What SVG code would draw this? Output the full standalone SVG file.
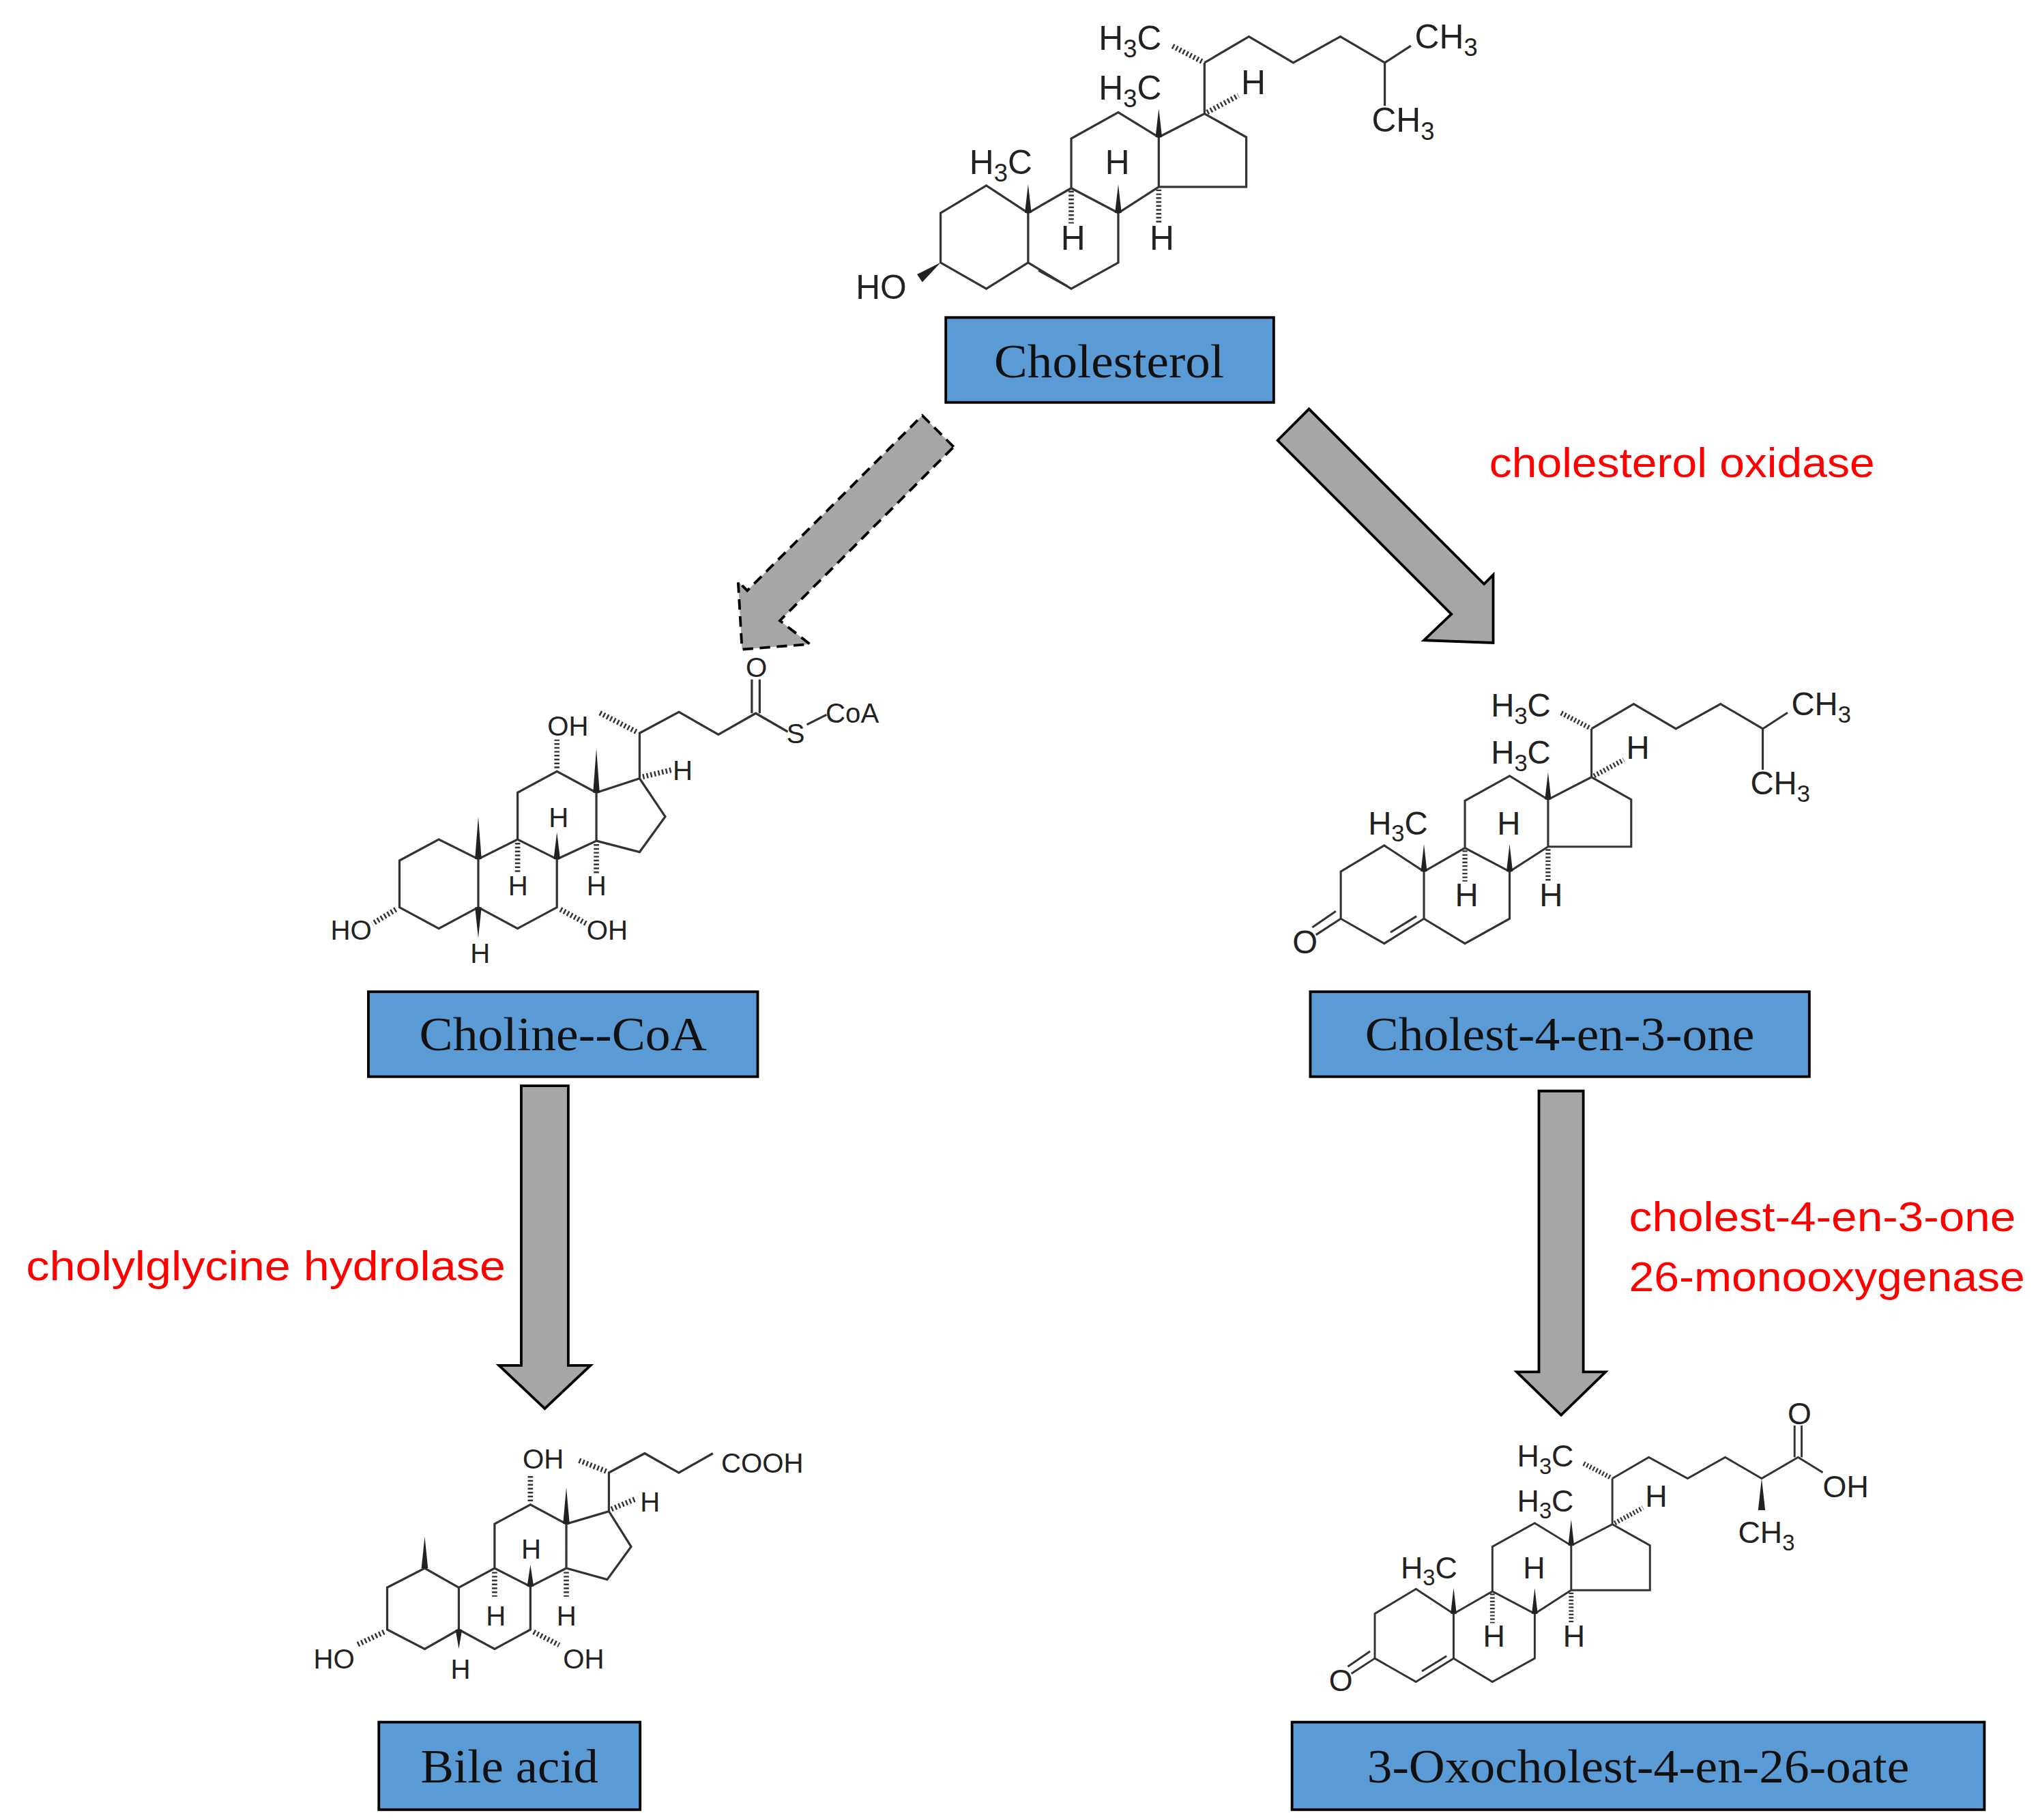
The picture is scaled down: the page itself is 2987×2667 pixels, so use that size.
<svg xmlns="http://www.w3.org/2000/svg" width="2987" height="2667" viewBox="0 0 2987 2667">
<style>
.b{fill:none;stroke:#333;stroke-width:1.7;stroke-linejoin:miter}
.h{fill:none;stroke:#333;stroke-width:4;stroke-dasharray:1.3 1.7}
.w{fill:#222;stroke:none}
.t{font-family:"Liberation Sans",Arial,sans-serif;font-size:26px;fill:#222}
.s{font-family:"Liberation Sans",Arial,sans-serif;font-size:21px;fill:#222}
.box{fill:#5B9BD5;stroke:#000;stroke-width:2}
.bt{font-family:"Liberation Serif","Times New Roman",serif;font-size:36px;fill:#111;text-anchor:middle}
.red{font-family:"Liberation Sans",Arial,sans-serif;font-size:32px;fill:#FF0000}
.arr{fill:#A6A6A6;stroke:#000;stroke-width:2}
</style>
<defs>
<g id="core">
<path class="b" d="M0,0 L-32,-21 L-67,0 L-67,38 L-32,58 L0,38 Z M0,38 L33,58 L69,38 L69,0 L33,-19 L0,0 M33,-19 L33,-57 L69,-77 L100,-58 L100,-20 L69,0 M100,-58 L135,-76 L167,-58 L167,-20 L100,-20 M135,-76 L135,-115"/>
<polygon class="w" points="-2.5,0 2.5,0 0,-22"/>
<polygon class="w" points="97.5,-58 102.5,-58 100,-80"/>
<polygon class="w" points="66.5,0 71.5,0 69,-22"/>
<line class="h" x1="33" y1="-17" x2="33" y2="8"/>
<line class="h" x1="100" y1="-18" x2="100" y2="8"/>
<line class="h" x1="137" y1="-77" x2="161" y2="-90"/>
<line class="h" x1="133" y1="-116" x2="110" y2="-128"/>
<text class="t" x="54" y="-125">H<tspan font-size="19" dy="6">3</tspan><tspan dy="-6">C</tspan></text>
<text class="t" x="54" y="-87">H<tspan font-size="19" dy="6">3</tspan><tspan dy="-6">C</tspan></text>
<text class="t" x="-45" y="-30">H<tspan font-size="19" dy="6">3</tspan><tspan dy="-6">C</tspan></text>
<text class="t" x="59" y="-30">H</text>
<text class="t" x="25" y="28">H</text>
<text class="t" x="93" y="28">H</text>
<text class="t" x="163" y="-91">H</text>
</g>
<g id="chain8">
<path class="b" d="M135,-115 L169,-135 L203,-115 L239,-135 L273,-115 L293,-128 M273,-115 L273,-82"/>
<text class="t" x="296" y="-126">CH<tspan font-size="19" dy="6">3</tspan></text>
<text class="t" x="263" y="-62">CH<tspan font-size="19" dy="6">3</tspan></text>
</g>
</defs>
<rect width="2987" height="2667" fill="#fff"/>
<g transform="scale(1.9147)">
<g id="cholesterol" transform="translate(787,163)">
<use href="#core"/><use href="#chain8"/>
<line class="b" x1="8" y1="44" x2="30" y2="56"/>
<polygon class="w" points="-67,38 -85,47 -81,53"/>
<text class="t" x="-132" y="66">HO</text>
<rect class="box" x="-63" y="80" width="251" height="65"/>
<text class="bt" x="62" y="126" textLength="176" lengthAdjust="spacingAndGlyphs">Cholesterol</text>
</g>
<g id="cholestenone">
<g transform="translate(1090,667) scale(0.95)">
<use href="#core"/><use href="#chain8"/>
<line class="b" x1="-27" y1="49" x2="-6" y2="36"/>
<line class="b" x1="-67" y1="38" x2="-87" y2="51"/>
<line class="b" x1="-71" y1="32" x2="-90" y2="45"/>
<text class="t" x="-106" y="66">O</text>
</g>
<rect class="box" x="1003" y="759" width="382" height="65"/>
<text class="bt" x="1194" y="804" textLength="298" lengthAdjust="spacingAndGlyphs">Cholest-4-en-3-one</text>
</g>
<g id="oxocholestenoate">
<g transform="translate(1112.7,1235) scale(0.9)">
<use href="#core"/>
<line class="b" x1="-27" y1="49" x2="-6" y2="36"/>
<line class="b" x1="-67" y1="38" x2="-87" y2="51"/>
<line class="b" x1="-71" y1="32" x2="-90" y2="45"/>
<text class="t" x="-106" y="66">O</text>
<path class="b" d="M135,-115 L166,-133 L199,-115 L231,-133 L262,-115 L293,-133 L314,-120"/>
<line class="b" x1="290" y1="-133" x2="290" y2="-160"/>
<line class="b" x1="296" y1="-133" x2="296" y2="-160"/>
<text class="t" x="284" y="-161">O</text>
<text class="t" x="314" y="-99">OH</text>
<polygon class="w" points="262,-115 259,-88 265,-88"/>
<text class="t" x="242" y="-60">CH<tspan font-size="19" dy="6">3</tspan></text>
</g>
<rect class="box" x="989" y="1318" width="530" height="67"/>
<text class="bt" x="1254" y="1364" textLength="415" lengthAdjust="spacingAndGlyphs">3-Oxocholest-4-en-26-oate</text>
</g>
<g id="cholinecoa">
<path class="b" d="M366.1,657.5 L335.9,642.4 L305.8,658.6 L305.8,694.4 L335.9,710.6 L366.1,694.4 Z M366.1,694.4 L396.2,710.6 L426.3,694.4 L426.3,657.5 L396.2,642.4 L366.1,657.5 M396.2,642.4 L396.2,606.6 L426.3,590.4 L456.5,606.6 L456.5,643.5 L426.3,657.5 M456.5,606.6 L489.6,595.8 L509.2,625 L489.6,652.1 L456.5,643.5 M489.6,595.8 L489.6,561.1 L519.7,544.9 L549.9,562.2 L578.5,545.9 L603,560 M617.6,554.6 L632.7,547"/>
<line class="b" x1="575.5" y1="545.9" x2="575.5" y2="520"/>
<line class="b" x1="581.5" y1="545.9" x2="581.5" y2="520"/>
<polygon class="w" points="363.6,657.5 368.6,657.5 366.1,625"/>
<polygon class="w" points="454,606.6 459,606.6 456.5,573"/>
<polygon class="w" points="423.8,657.5 428.8,657.5 426.3,637"/>
<polygon class="w" points="363.6,694.4 368.6,694.4 366.1,718"/>
<line class="h" x1="487" y1="560" x2="458" y2="545"/>
<line class="h" x1="426.3" y1="588" x2="426.3" y2="566"/>
<line class="h" x1="492" y1="594.5" x2="513.7" y2="589.3"/>
<line class="h" x1="396.2" y1="645" x2="396.2" y2="669"/>
<line class="h" x1="456.5" y1="646" x2="456.5" y2="669"/>
<line class="h" x1="303" y1="696" x2="285" y2="707"/>
<line class="h" x1="429" y1="696" x2="449" y2="707"/>
<text class="s" x="579" y="518" text-anchor="middle">O</text>
<text class="s" x="609" y="569" text-anchor="middle">S</text>
<text class="s" x="632" y="553">CoA</text>
<text class="s" x="419" y="563">OH</text>
<text class="s" x="515" y="597">H</text>
<text class="s" x="420" y="633">H</text>
<text class="s" x="389" y="685">H</text>
<text class="s" x="449" y="685">H</text>
<text class="s" x="360" y="737">H</text>
<text class="s" x="253" y="719">HO</text>
<text class="s" x="449" y="719">OH</text>
<rect class="box" x="282" y="759" width="298" height="65"/>
<text class="bt" x="431" y="804" textLength="220" lengthAdjust="spacingAndGlyphs">Choline--CoA</text>
</g>
<g id="bileacid">
<path class="b" d="M351.2,1215 L325.1,1200.2 L296.4,1215 L296.4,1247.2 L325.1,1262 L351.2,1247.2 Z M351.2,1247.2 L378.6,1262 L406,1247.2 L406,1214.2 L378.6,1200.2 L351.2,1215 M378.6,1200.2 L378.6,1166.3 L406,1151.5 L433.5,1166.3 L433.5,1200.2 L406,1214.2 M433.5,1166.3 L466.1,1156.7 L483.1,1183.7 L464.8,1208.9 L433.5,1200.2 M466.1,1156.7 L466.1,1127.1 L493.5,1112.3 L519.6,1127.1 L545.7,1112.3"/>
<polygon class="w" points="322.6,1200.2 327.6,1200.2 325.1,1176"/>
<polygon class="w" points="431,1166.3 436,1166.3 433.5,1138.4"/>
<polygon class="w" points="403.5,1214.2 408.5,1214.2 406,1197.6"/>
<polygon class="w" points="348.7,1247.2 353.7,1247.2 351.2,1262"/>
<line class="h" x1="464" y1="1126" x2="442.6" y2="1117.5"/>
<line class="h" x1="406" y1="1149" x2="406" y2="1128"/>
<line class="h" x1="468" y1="1155" x2="487" y2="1147"/>
<line class="h" x1="378.6" y1="1203" x2="378.6" y2="1222"/>
<line class="h" x1="433.5" y1="1203" x2="433.5" y2="1222"/>
<line class="h" x1="294" y1="1249" x2="273" y2="1259"/>
<line class="h" x1="408.5" y1="1249" x2="428" y2="1259"/>
<text class="s" x="552" y="1127">COOH</text>
<text class="s" x="400" y="1124">OH</text>
<text class="s" x="490" y="1157">H</text>
<text class="s" x="399" y="1193">H</text>
<text class="s" x="372" y="1244">H</text>
<text class="s" x="426" y="1244">H</text>
<text class="s" x="345" y="1285">H</text>
<text class="s" x="240" y="1277">HO</text>
<text class="s" x="431" y="1277">OH</text>
<rect class="box" x="290" y="1318" width="200" height="67"/>
<text class="bt" x="390" y="1364" textLength="136" lengthAdjust="spacingAndGlyphs">Bile acid</text>
</g>
<g id="connectors">
<polygon class="arr" stroke-dasharray="8 5" stroke-width="3" points="730,342 706,318 572,452 565,445 568,497 620,493 597,475"/>
<polygon class="arr" points="978,337 1002,313 1136,447 1143,440 1143,492 1090,490 1111,470"/>
<polygon class="arr" points="399,831 435,831 435,1045 452,1045 417,1078 382,1045 399,1045"/>
<polygon class="arr" points="1178,835 1212,835 1212,1050 1229,1050 1195,1083 1161,1050 1178,1050"/>
<text class="red" x="1140" y="365" textLength="295" lengthAdjust="spacingAndGlyphs">cholesterol oxidase</text>
<text class="red" x="20" y="980" textLength="367" lengthAdjust="spacingAndGlyphs">cholylglycine hydrolase</text>
<text class="red" x="1247" y="942" textLength="296" lengthAdjust="spacingAndGlyphs">cholest-4-en-3-one</text>
<text class="red" x="1247" y="988" textLength="303" lengthAdjust="spacingAndGlyphs">26-monooxygenase</text>
</g>
</g>
</svg>
